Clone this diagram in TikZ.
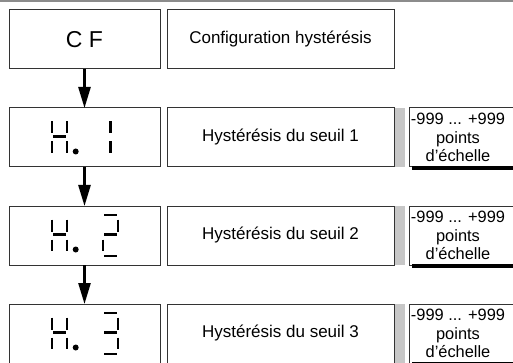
\documentclass[tikz,border=0pt]{standalone}
\usepackage{fontspec}
\setmainfont{Liberation Sans}
\usetikzlibrary{arrows.meta, positioning}

\begin{document}
\begin{tikzpicture}[
    x=1pt, y=-1pt,
    node distance=39pt and 7pt,
    boxline/.style={draw=black!80, line width=1pt},
    dispbox/.style={boxline, minimum width=151pt, minimum height=59pt, inner sep=0pt, outer sep=0pt, font=\fontsize{23}{27}\selectfont},
    labelbox/.style={boxline, minimum width=227pt, minimum height=59pt, inner sep=0pt, outer sep=0pt, font=\fontsize{17}{20}\selectfont},
    rangebox/.style={minimum width=98pt, minimum height=59pt, inner sep=0pt, outer sep=0pt, align=center, font=\fontsize{16.4}{18.5}\selectfont},
    flow/.style={-{Triangle[length=21pt, width=12pt]}, line width=2.5pt},
    segment/.style={line width=2.2pt},
    % seven segment positions
    seg a/.style={insert path={(1,-20.5) -- (14,-20.5)}},
    seg b/.style={insert path={(15,-16) -- (15,-4)}},
    seg c/.style={insert path={(15,4) -- (15,15.5)}},
    seg d/.style={insert path={(1,20.5) -- (14,20.5)}},
    seg e/.style={insert path={(0,4) -- (0,15.5)}},
    seg f/.style={insert path={(0,-16) -- (0,-4)}},
    seg g/.style={insert path={(1,-1) -- (14,-1)}},
    seg i/.style={insert path={(7.5,-16) -- (7.5,-4)}},
    seg j/.style={insert path={(7.5,4) -- (7.5,15.5)}},
    pics/display/.style={code={
        \foreach \s in {f,e,b,c,g} \draw[segment, seg \s];
        \fill (23.7,14) circle (3);
        \begin{scope}[xshift=51pt]
          \foreach \s in {#1} \draw[segment, seg \s];
        \end{scope}
    }}
  ]
  \useasboundingbox (0,0) rectangle (513,363);
  \fill[black!45] (0,0) rectangle (513,2.5);

  % Nodes
  \node (disp0) [dispbox] at (84.5,39.5) {C F};
  \node (disp1) [dispbox, below=of disp0] {};
  \node (disp2) [dispbox, below=of disp1] {};
  \node (disp3) [dispbox, below=of disp2] {};

  \node (lab0) [labelbox, right=of disp0] {Configuration hystérésis};
  \node (lab1) [labelbox, right=of disp1] {Hystérésis du seuil 1};
  \node (lab2) [labelbox, right=of disp2] {Hystérésis du seuil 2};
  \node (lab3) [labelbox, right=of disp3] {Hystérésis du seuil 3};

  \node (rng1) [rangebox, right=15pt of lab1] {-999 ... +999\\points\\d’échelle};
  \node (rng2) [rangebox, right=15pt of lab2] {-999 ... +999\\points\\d’échelle};
  \node (rng3) [rangebox, right=15pt of lab3] {-999 ... +999\\points\\d’échelle};

  % Displays
  \pic at ([xshift=-32.5pt]disp1.center) {display={i,j}};
  \pic at ([xshift=-32.5pt]disp2.center) {display={a,b,g,e,d}};
  \pic at ([xshift=-32.5pt]disp3.center) {display={a,b,g,c,d}};

  % Range frames
  \foreach \n in {1,2,3} {
    \fill[black!22] ([xshift=1pt]lab\n.north east) rectangle ([xshift=11pt]lab\n.south east);
    \draw[boxline] (rng\n.south west) rectangle ([xshift=20pt]rng\n.north east);
    \fill ([shift={(3,-1)}]rng\n.south west) rectangle ([shift={(30,3)}]rng\n.south east);
  }

  % Connections
  \draw [flow] (disp0) -- (disp1);
  \draw [flow] (disp1) -- (disp2);
  \draw [flow] (disp2) -- (disp3);
\end{tikzpicture}
\end{document}
